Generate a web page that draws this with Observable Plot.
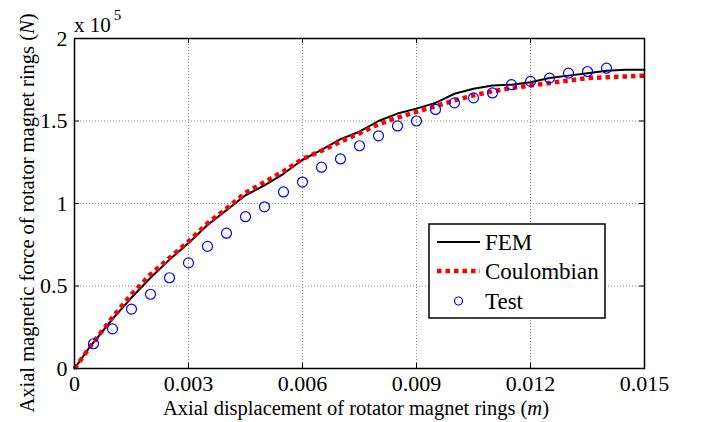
<!DOCTYPE html>
<html><head><meta charset="utf-8">
<script src="https://cdn.jsdelivr.net/npm/d3@7"></script>
<script src="https://cdn.jsdelivr.net/npm/@observablehq/plot@0.6"></script>
<style>body{margin:0;background:#fff} svg{display:block} svg text, svg tspan{font-family:"Liberation Serif","Times New Roman",serif !important}</style>
</head><body><div id="chart"></div>
<script>
// Axial displacement (m) and axial force (x 10^5 N)
const femX = [0, 0.0004, 0.001, 0.0015, 0.002, 0.0025, 0.003, 0.0035, 0.004, 0.0045, 0.005, 0.0055, 0.006, 0.0065, 0.007, 0.0075, 0.008, 0.0085, 0.009, 0.0095, 0.01, 0.0105, 0.011, 0.0115, 0.012, 0.0125, 0.013, 0.0135, 0.014, 0.0145, 0.015];
const femY = [0, 0.13, 0.30, 0.43, 0.55, 0.66, 0.76, 0.87, 0.96, 1.05, 1.11, 1.18, 1.265, 1.325, 1.39, 1.435, 1.50, 1.545, 1.575, 1.61, 1.665, 1.695, 1.715, 1.72, 1.735, 1.76, 1.775, 1.79, 1.805, 1.81, 1.81];
const coulX = [0, 0.0005, 0.001, 0.0015, 0.002, 0.0025, 0.003, 0.0035, 0.004, 0.0045, 0.005, 0.0055, 0.006, 0.0065, 0.007, 0.0075, 0.008, 0.0085, 0.009, 0.0095, 0.01, 0.0105, 0.011, 0.0115, 0.012, 0.0125, 0.013, 0.0135, 0.014, 0.0145, 0.015];
const coulY = [0, 0.16, 0.31, 0.45, 0.57, 0.67, 0.77, 0.88, 0.97, 1.065, 1.13, 1.195, 1.27, 1.32, 1.375, 1.425, 1.48, 1.52, 1.555, 1.59, 1.625, 1.655, 1.68, 1.70, 1.715, 1.73, 1.745, 1.76, 1.765, 1.77, 1.775];
const testX = [0.0005, 0.001, 0.0015, 0.002, 0.0025, 0.003, 0.0035, 0.004, 0.0045, 0.005, 0.0055, 0.006, 0.0065, 0.007, 0.0075, 0.008, 0.0085, 0.009, 0.0095, 0.01, 0.0105, 0.011, 0.0115, 0.012, 0.0125, 0.013, 0.0135, 0.014];
const testY = [0.15, 0.24, 0.36, 0.45, 0.55, 0.64, 0.74, 0.82, 0.92, 0.98, 1.07, 1.13, 1.22, 1.27, 1.35, 1.41, 1.47, 1.50, 1.57, 1.61, 1.64, 1.67, 1.72, 1.74, 1.76, 1.79, 1.80, 1.82];
const xTicks = [0, 0.003, 0.006, 0.009, 0.012, 0.015];
const xTickLabels = ["0", "0.003", "0.006", "0.009", "0.012", "0.015"];
const yTicks = [0, 0.5, 1, 1.5, 2];
const yTickLabels = ["0", "0.5", "1", "1.5", "2"];
const seriesNames = ["FEM", "Coulombian", "Test"];

const fem = femX.map((x, i) => ({x, y: femY[i]}));
const coul = coulX.map((x, i) => ({x, y: coulY[i]}));
const test = testX.map((x, i) => ({x, y: testY[i]}));

const W = 701, H = 422, mL = 74, mR = 57, mT = 38, mB = 54;
const pW = W - mL - mR, pH = H - mT - mB;
const font = "'Liberation Serif', 'Times New Roman', serif";
const gridStyle = {stroke: "#8a8a8a", strokeOpacity: 1, strokeWidth: 1, strokeDasharray: "1,2"};

const svg = Plot.plot({
  width: W, height: H, marginLeft: mL, marginRight: mR, marginTop: mT, marginBottom: mB,
  style: {fontFamily: font, fontSize: "22px", background: "#fff", color: "#000", overflow: "visible"},
  x: {domain: [0, 0.015]},
  y: {domain: [0, 2]},
  marks: [
    Plot.gridX(xTicks.slice(1, -1), gridStyle),
    Plot.gridY(yTicks.slice(1, -1), gridStyle),
    Plot.line(fem, {x: "x", y: "y", stroke: "#000", strokeWidth: 2}),
    Plot.line(coul, {x: "x", y: "y", stroke: "#ff0000", strokeWidth: 4.5, strokeDasharray: "4.5,4", strokeLinecap: "butt", strokeLinejoin: "miter"}),
    Plot.dot(test, {x: "x", y: "y", r: 5, stroke: "#0000ff", strokeWidth: 1.2, fill: "none"}),
    Plot.tickX(xTicks, {x: d => d, insetTop: pH - 5, stroke: "#000"}),
    Plot.tickX(xTicks, {x: d => d, insetBottom: pH - 5, stroke: "#000"}),
    Plot.tickY(yTicks, {y: d => d, insetRight: pW - 5, stroke: "#000"}),
    Plot.tickY(yTicks, {y: d => d, insetLeft: pW - 5, stroke: "#000"}),
    Plot.frame({stroke: "#000", strokeWidth: 1.5}),
    Plot.axisX(xTicks, {tickSize: 0, tickPadding: 7, tickFormat: (d, i) => xTickLabels[i], label: null}),
    Plot.axisY(yTicks, {tickSize: 0, tickPadding: 7, tickFormat: (d, i) => yTickLabels[i], label: null})
  ]
});

const s = d3.select(svg);
// exponent
const ex = s.append("text").attr("x", 74).attr("y", 32).attr("text-anchor", "start").style("font-size", "21px").attr("fill", "#000");
ex.append("tspan").text("x 10");
ex.append("tspan").attr("dx", 3).attr("dy", -12).style("font-size", "15px").text("5");
// x label
const xl = s.append("text").attr("x", 356).attr("y", 415).attr("text-anchor", "middle").style("font-size", "20.5px").attr("fill", "#000");
xl.append("tspan").text("Axial displacement of rotator magnet rings (");
xl.append("tspan").attr("font-style", "italic").text("m");
xl.append("tspan").text(")");
// y label
const yl = s.append("text").attr("transform", "translate(34,213) rotate(-90)").attr("text-anchor", "middle").style("font-size", "20.5px").attr("fill", "#000");
yl.append("tspan").text("Axial magnetic force of rotator magnet rings (");
yl.append("tspan").attr("font-style", "italic").text("N");
yl.append("tspan").text(")");
// legend
const lg = s.append("g").attr("text-anchor", "start");
lg.append("rect").attr("x", 429).attr("y", 224).attr("width", 176).attr("height", 94).attr("fill", "#fff").attr("stroke", "#000").attr("stroke-width", 1.5);
const rowY = [242, 271, 301];
lg.append("line").attr("x1", 437).attr("x2", 480).attr("y1", rowY[0]).attr("y2", rowY[0]).attr("stroke", "#000").attr("stroke-width", 2);
lg.append("line").attr("x1", 437).attr("x2", 480).attr("y1", rowY[1]).attr("y2", rowY[1]).attr("stroke", "#ff0000").attr("stroke-width", 4.5).attr("stroke-dasharray", "4.5,4");
lg.append("circle").attr("cx", 458.5).attr("cy", rowY[2]).attr("r", 4).attr("fill", "none").attr("stroke", "#0000ff").attr("stroke-width", 1.2);
seriesNames.forEach((n, i) => {
  lg.append("text").attr("x", 485).attr("y", rowY[i]).attr("dy", "0.35em").attr("fill", "#000")
    .style("font-size", "23px").text(n);
});
document.getElementById("chart").appendChild(svg);
</script>
</body></html>
